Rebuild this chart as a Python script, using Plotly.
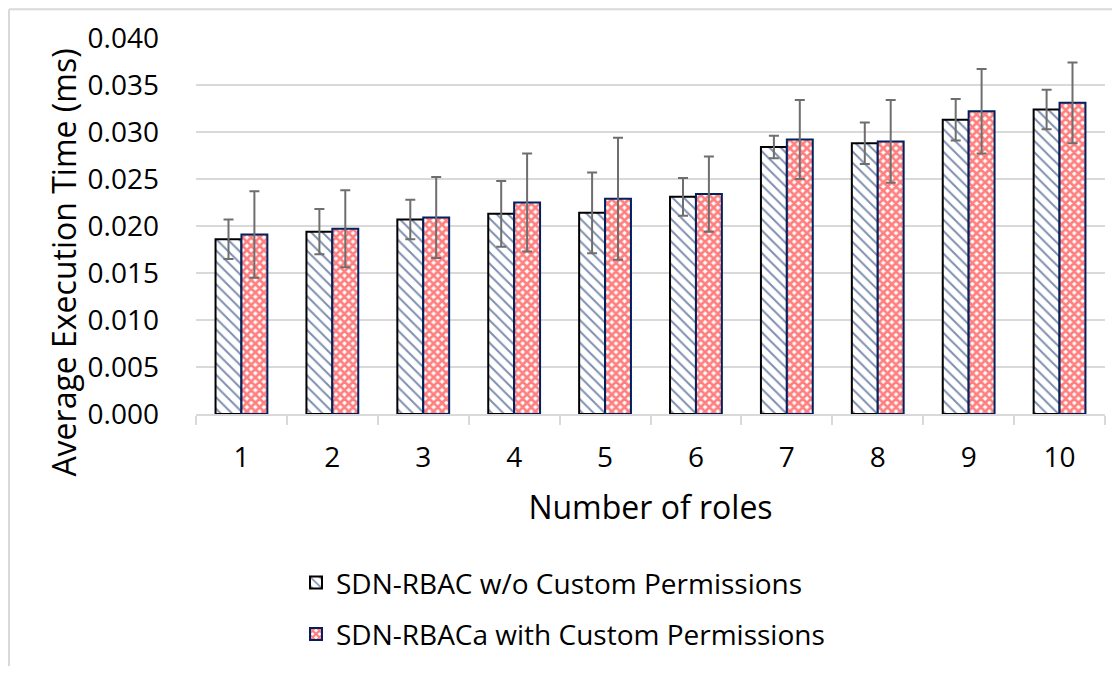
import plotly.graph_objects as go

roles = ["1", "2", "3", "4", "5", "6", "7", "8", "9", "10"]
rbac_mean = [0.0186, 0.0194, 0.0207, 0.0213, 0.0214, 0.0231, 0.0284, 0.0288, 0.0313, 0.0324]
rbac_err = [0.0021, 0.0024, 0.0021, 0.0035, 0.0043, 0.0020, 0.0012, 0.0022, 0.0022, 0.0021]
rbaca_mean = [0.0191, 0.0197, 0.0209, 0.0225, 0.0229, 0.0234, 0.0292, 0.0290, 0.0322, 0.0331]
rbaca_err = [0.0046, 0.0041, 0.0043, 0.0052, 0.0065, 0.0040, 0.0042, 0.0044, 0.0045, 0.0043]
name_a = "SDN-RBAC w/o Custom Permissions"
name_b = "SDN-RBACa with Custom Permissions"
yticks = [0.000, 0.005, 0.010, 0.015, 0.020, 0.025, 0.030, 0.035, 0.040]

FONT = "Open Sans"
err_color = "#6e6e6e"

fig = go.Figure()
fig.add_trace(go.Bar(
    x=roles, y=rbac_mean, name=name_a, legendgroup="a",
    marker=dict(color="white", line=dict(color="black", width=2),
                pattern=dict(shape="\\", fgcolor="#002060", bgcolor="white", size=8, solidity=0.25)),
    error_y=dict(type="data", array=rbac_err, visible=True, color=err_color, thickness=2, width=5),
))
fig.add_trace(go.Bar(
    x=roles, y=rbaca_mean, name=name_b, legendgroup="b",
    marker=dict(color="white", line=dict(color="#002060", width=2),
                pattern=dict(shape="x", fgcolor="#FF0000", bgcolor="white", size=6, solidity=0.7)),
    error_y=dict(type="data", array=rbaca_err, visible=True, color=err_color, thickness=2, width=5),
))

# the page places the figure 8 px in from the window's top-left corner
OFF = 8
W, H = 1104, 658
L, R, T, B = 196 - OFF, 7, 38 - OFF, 248
pw = W - L - R
ph = H - T - B

def px_x(p):
    return (p - OFF - L) / pw

def px_y(p):
    return (H - B - (p - OFF)) / ph

fig.update_layout(
    width=W, height=H,
    margin=dict(l=L, r=R, t=T, b=B),
    paper_bgcolor="white", plot_bgcolor="white",
    font=dict(family=FONT, color="black"),
    barmode="group", bargap=0.43, bargroupgap=0.0,
    showlegend=True,
    legend=dict(
        x=px_x(296), y=px_y(665.5), xanchor="left", yanchor="bottom",
        orientation="v", font=dict(size=28, family=FONT, color="black"),
        tracegroupgap=12, bgcolor="rgba(0,0,0,0)",
    ),
    xaxis=dict(
        type="category", showgrid=False, showline=True, linecolor="#d9d9d9", linewidth=1.5,
        ticks="outside", tickson="boundaries", ticklen=9, tickcolor="#d9d9d9", tickwidth=1.5,
        tickfont=dict(size=28, family=FONT), ticklabelstandoff=18,
        title=dict(text="Number of roles", font=dict(size=32, family=FONT), standoff=22),
    ),
    yaxis=dict(
        range=[0, 0.040], tickvals=yticks, tickformat=".3f",
        showgrid=True, gridcolor="#d9d9d9", gridwidth=1.5, zeroline=False, showline=False,
        tickfont=dict(size=28, family=FONT), ticklabelstandoff=36,
    ),
    annotations=[dict(
        text="Average Execution Time (ms)", textangle=-90,
        xref="paper", yref="paper", x=px_x(64), y=px_y(265),
        xanchor="center", yanchor="middle", showarrow=False,
        font=dict(size=32, family=FONT, color="black"),
    )],
    shapes=[
        dict(type="line", xref="paper", yref="paper", x0=px_x(9), x1=px_x(9), y0=px_y(9), y1=px_y(H + 20),
             line=dict(color="#d9d9d9", width=2)),
        dict(type="line", xref="paper", yref="paper", x0=px_x(9), x1=px_x(1130), y0=px_y(9), y1=px_y(9),
             line=dict(color="#d9d9d9", width=2)),
    ],
)

fig.write_html("out.html")
